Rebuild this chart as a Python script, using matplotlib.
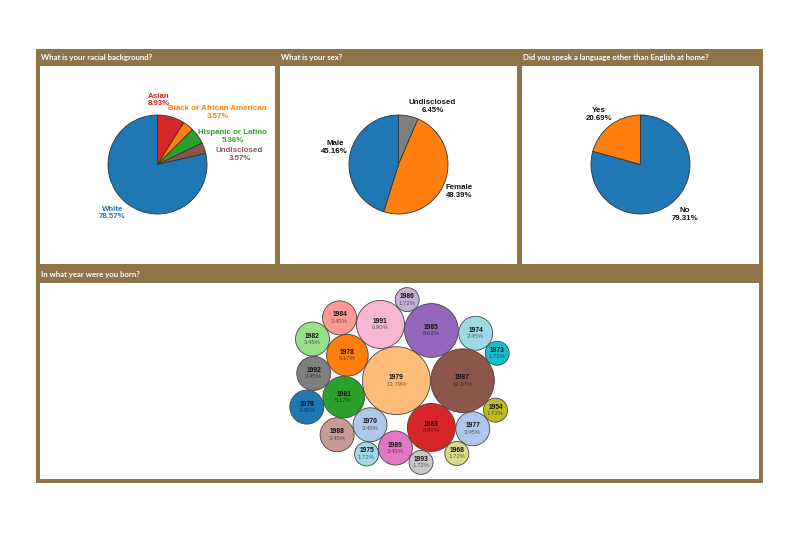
import numpy as np
import matplotlib
matplotlib.use("Agg")
import matplotlib.pyplot as plt
from matplotlib.patches import Rectangle, Circle

# ---------------- data ----------------
race_labels = ["Asian", "Black or African American", "Hispanic or Latino", "Undisclosed", "White"]
race_values = [8.93, 3.57, 5.36, 3.57, 78.57]

sex_labels = ["Undisclosed", "Female", "Male"]
sex_values = [6.45, 48.39, 45.16]

lang_labels = ["No", "Yes"]
lang_values = [79.31, 20.69]

years = ["1983", "1978", "1970", "1975", "1986", "1992", "1989", "1993", "1988", "1987", "1991",
         "1976", "1979", "1984", "1977", "1985", "1982", "1981", "1954", "1973", "1968", "1974"]
year_values = [6.90, 5.17, 3.45, 1.72, 1.72, 3.45, 3.45, 1.72, 3.45, 12.07, 6.90,
               3.45, 13.79, 3.45, 3.45, 8.62, 3.45, 5.17, 1.72, 1.72, 1.72, 3.45]
year_pct_text = ["6.90%", "5.17%", "3.45%", "1.72%", "1.72%", "3.45%", "3.45%", "1.72%", "3.45%", "12.07%", "6.90%",
                 "3.45%", "13.79%", "3.45%", "3.45%", "8.62%", "3.45%", "5.17%", "1.72%", "1.72%", "1.72%", "2.45%"]

titles = ["What is your racial background?", "What is your sex?",
          "Did you speak a language other than English at home?", "In what year were you born?"]

# ---------------- styles ----------------
race_colors = ["#d62728", "#ff7f0e", "#2ca02c", "#8c564b", "#1f77b4"]
sex_colors = ["#7f7f7f", "#ff7f0e", "#1f77b4"]
lang_colors = ["#1f77b4", "#ff7f0e"]
year_colors = ["#d62728", "#ff7f0e", "#aec7e8", "#9edae5", "#c5b0d5", "#7f7f7f", "#e377c2", "#c7c7c7",
               "#c49c94", "#8c564b", "#f7b6d2", "#1f77b4", "#ffbb78", "#ff9896", "#aec7e8", "#9467bd",
               "#98df8a", "#2ca02c", "#bcbd22", "#17becf", "#dbdb8d", "#9edae5"]

# label offsets (pixels, from pie centre) -- text layout only
race_lab_off = [(1, 64.5), (60, 51.7), (75, 28), (82, 10.3), (-45, -48.5)]
sex_lab_off = [(34, 58), (60.6, -26.8), (-63.7, 16.7)]
lang_lab_off = [(44.3, -49.7), (-41.3, 50.1)]

W, H = 800, 534
BROWN = "#8d7549"
fig = plt.figure(figsize=(W / 100, H / 100), dpi=100)
fig.patch.set_facecolor("white")


def fr(x0, y0, x1, y1):
    """pixel box (top-left origin) -> figure fraction rect"""
    return [x0 / W, 1 - y1 / H, (x1 - x0) / W, (y1 - y0) / H]


panels = [(40, 66, 275, 264), (280, 66, 517, 264), (522, 66, 759, 264), (40, 283, 759, 479)]

# brown frame and white panel backgrounds
fig.patches.append(Rectangle((36 / W, 1 - 483 / H), (763 - 36) / W, (483 - 49) / H,
                             transform=fig.transFigure, facecolor=BROWN, edgecolor="none", zorder=-2))
for (a, b, c, d) in panels:
    r = fr(a, b, c, d)
    fig.patches.append(Rectangle((r[0], r[1]), r[2], r[3], transform=fig.transFigure,
                                 facecolor="white", edgecolor="none", zorder=-1))

title_pos = [(41, 57.5), (281, 57.5), (523, 57.5), (41, 274)]
for (tx, ty), t in zip(title_pos, titles):
    fig.text(tx / W, 1 - ty / H, t, color="white", fontsize=5.6, ha="left", va="center",
             family=["Lato", "DejaVu Sans"], fontweight="bold")

label_font = dict(family="Liberation Sans", fontweight="bold", fontsize=5.7, ha="center",
                  va="center", linespacing=1.15)


def draw_pie(panel, values, labels, colors, offsets, text_colors):
    x0, y0, x1, y1 = panel
    ax = fig.add_axes(fr(x0, y0, x1, y1))
    w, h = x1 - x0, y1 - y0
    cx, cy = w / 2, h / 2 + 0.5
    ax.pie(values, colors=colors, startangle=90, counterclock=False, radius=49.5,
           center=(cx, cy), wedgeprops=dict(edgecolor="#333333", linewidth=0.6))
    ax.set_xlim(0, w)
    ax.set_ylim(0, h)
    ax.set_aspect("auto")
    ax.set_axis_off()
    for lab, v, (dx, dy), tc in zip(labels, values, offsets, text_colors):
        ax.text(cx + dx, cy + dy, f"{lab}\n{v:.2f}%", color=tc, **label_font)


draw_pie(panels[0], race_values, race_labels, race_colors, race_lab_off, race_colors)
draw_pie(panels[1], sex_values, sex_labels, sex_colors, sex_lab_off, ["#111111"] * 3)
draw_pie(panels[2], lang_values, lang_labels, lang_colors, lang_lab_off, ["#111111"] * 2)

# ---------------- bubble pack ----------------
radii = 9.15 * np.sqrt(np.array(year_values))
half_h = 97.5


def pack(radii, half_h, gap=0.4, ky=1.25):
    n = len(radii)
    order = sorted(range(n), key=lambda i: -radii[i])
    pos = {}
    for idx in order:
        r = radii[idx] + gap
        if not pos:
            pos[idx] = (0.0, 0.0)
            continue
        placed = list(pos.items())
        cands = []
        if len(placed) == 1:
            j, (x, y) = placed[0]
            cands = [(x + radii[j] + r, y), (x - radii[j] - r, y)]
        else:
            for a in range(len(placed)):
                ia, (ax_, ay_) = placed[a]
                for b in range(a + 1, len(placed)):
                    ib, (bx_, by_) = placed[b]
                    R1, R2 = radii[ia] + r, radii[ib] + r
                    dx, dy = bx_ - ax_, by_ - ay_
                    d = np.hypot(dx, dy)
                    if d == 0 or d > R1 + R2 or d < abs(R1 - R2):
                        continue
                    aa = (R1 ** 2 - R2 ** 2 + d ** 2) / (2 * d)
                    hh = np.sqrt(max(R1 ** 2 - aa ** 2, 0))
                    px, py = ax_ + aa * dx / d, ay_ + aa * dy / d
                    cands.append((px - hh * dy / d, py + hh * dx / d))
                    cands.append((px + hh * dy / d, py - hh * dx / d))
        best, bcost = None, None
        for (x, y) in cands:
            if abs(y) + radii[idx] > half_h:
                continue
            ok = True
            for j, (qx, qy) in pos.items():
                if np.hypot(x - qx, y - qy) < radii[j] + radii[idx] + gap - 1e-6:
                    ok = False
                    break
            if not ok:
                continue
            cost = x ** 2 + (ky * y) ** 2
            if bcost is None or cost < bcost:
                best, bcost = (x, y), cost
        pos[idx] = best
    return pos


pos = pack(radii, half_h)
xs = np.array([pos[i][0] for i in range(len(radii))])
ys = np.array([pos[i][1] for i in range(len(radii))])
xs -= ((xs - radii).min() + (xs + radii).max()) / 2
ys -= ((ys - radii).min() + (ys + radii).max()) / 2

x0, y0, x1, y1 = panels[3]
bax = fig.add_axes(fr(x0, y0, x1, y1))
bw, bh = x1 - x0, y1 - y0
bax.set_xlim(-bw / 2, bw / 2)
bax.set_ylim(-bh / 2, bh / 2)
bax.set_axis_off()
for i in range(len(years)):
    bax.add_patch(Circle((xs[i], ys[i]), radii[i], facecolor=year_colors[i],
                         edgecolor="#444444", linewidth=0.6))
    bax.text(xs[i], ys[i] + 3, years[i], ha="center", va="center", fontsize=4.8,
             fontweight="bold", family="Liberation Sans", color="#111111")
    bax.text(xs[i], ys[i] - 3.5, year_pct_text[i], ha="center", va="center", fontsize=4.3,
             family="Liberation Sans", color=(0, 0, 0, 0.55))

fig.savefig("out.png", dpi=100, facecolor="white")
